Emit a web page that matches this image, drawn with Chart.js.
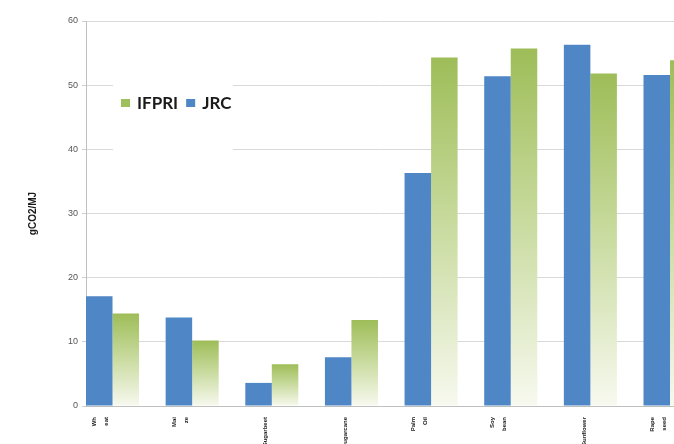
<!DOCTYPE html>
<html>
<head>
<meta charset="utf-8">
<script src="https://cdn.jsdelivr.net/npm/chart.js@4.4.1/dist/chart.umd.min.js"></script>
<style>
  html, body { margin: 0; padding: 0; background: #fff; overflow: hidden; }
  #wrap { width: 674px; height: 444px; }
</style>
</head>
<body>
<div id="wrap"><canvas id="ghgChart" width="674" height="444"></canvas></div>
<script>
// ILUC emissions by feedstock, JRC vs IFPRI
// (one-word labels get an empty first line so they sit in the same column as wrapped ones)
const crops = [
  ['Wh', 'eat'], ['Mai', 'ze'], ['', 'Sugarbeet'], ['', 'Sugarcane'],
  ['Palm', 'Oil'], ['Soy', 'bean'], ['', 'Sunflower'], ['Rape', 'seed']
];
const cropIndex = [0, 1, 2, 3, 4, 5, 6, 7];
const jrc = [17.1, 13.8, 3.6, 7.6, 36.3, 51.4, 56.3, 51.6];
const ifpri = [14.4, 10.2, 6.5, 13.4, 54.3, 55.7, 51.8, 53.9];
const yTicks = [0, 10, 20, 30, 40, 50, 60];

const blue = '#4f86c6';
const green = '#9fbf5c';

function greenFade(ctx) {
  const chart = ctx.chart;
  if (!chart.chartArea || !ctx.parsed) return green;
  const y = chart.scales.y;
  const top = y.getPixelForValue(ctx.parsed.y);
  const base = y.getPixelForValue(0);
  const g = chart.ctx.createLinearGradient(0, top, 0, base);
  g.addColorStop(0, '#9ebd58');
  g.addColorStop(0.45, '#c6d99a');
  g.addColorStop(1, '#f7f9ef');
  return g;
}

// legend drawn as a white box inside the plot (covers gridlines like the original)
const boxLegend = {
  id: 'boxLegend',
  beforeDatasetsDraw(chart) {
    const { ctx, chartArea } = chart;
    const x0 = chartArea.left + 27;
    const y0 = chartArea.top + 38;
    ctx.save();
    ctx.fillStyle = '#fff';
    ctx.fillRect(x0, y0, 120, 96);
    ctx.font = 'bold 17px Lato';
    ctx.textBaseline = 'middle';
    const items = chart.data.datasets.slice().reverse();
    let x = x0 + 8;
    const cy = chartArea.top + 82;
    items.forEach((ds) => {
      ctx.fillStyle = ds.legendColor;
      ctx.fillRect(x, cy - 4, 9, 8);
      x += 16;
      ctx.fillStyle = '#1a1a1a';
      ctx.fillText(ds.label, x, cy + 1);
      x += ctx.measureText(ds.label).width + 8;
    });
    ctx.restore();
  }
};

const chart = new Chart(document.getElementById('ghgChart'), {
  type: 'bar',
  data: {
    labels: cropIndex,
    datasets: [
      {
        label: 'JRC',
        data: cropIndex.map((i) => ({ x: i, y: jrc[i] })),
        backgroundColor: blue,
        legendColor: blue,
        categoryPercentage: 0.666,
        barPercentage: 1.0
      },
      {
        label: 'IFPRI',
        data: cropIndex.map((i) => ({ x: i, y: ifpri[i] })),
        backgroundColor: greenFade,
        legendColor: green,
        categoryPercentage: 0.666,
        barPercentage: 1.0
      }
    ]
  },
  options: {
    responsive: false,
    devicePixelRatio: 1,
    animation: false,
    layout: { padding: { top: 21, left: 0, right: 0, bottom: 0 } },
    plugins: {
      legend: { display: false },
      tooltip: { enabled: false }
    },
    scales: {
      x: {
        type: 'linear',
        offset: false,
        min: -0.333,
        max: 7.05,
        grid: { display: false, offset: false },
        border: { display: true, color: '#bfbfbf', width: 1 },
        ticks: {
          stepSize: 1,
          includeBounds: false,
          autoSkip: false,
          minRotation: 90,
          maxRotation: 90,
          labelOffset: -18,
          padding: 3,
          color: '#222',
          font: { family: 'Liberation Sans', size: 6, weight: 'bold', lineHeight: 2 },
          callback: (v) => (Number.isInteger(v) && crops[v] !== undefined ? crops[v] : '')
        },
        afterFit: (s) => { s.height = 38; s.paddingLeft = 0; s.paddingRight = 0; }
      },
      y: {
        min: 0,
        max: 60,
        afterBuildTicks: (s) => { s.ticks = yTicks.map((v) => ({ value: v })); },
        grid: { color: '#d9d9d9', tickLength: 4, tickColor: '#d0d0d0' },
        border: { display: true, color: '#bfbfbf', width: 1 },
        ticks: {
          padding: 4,
          color: '#555',
          font: { family: 'Liberation Sans', size: 9 }
        },
        title: {
          display: true,
          text: 'gCO2/MJ',
          color: '#1a1a1a',
          font: { family: 'Liberation Sans', size: 10, weight: 'bold' },
          padding: { top: 27, bottom: 0 }
        },
        afterFit: (s) => { s.width = 86; }
      }
    }
  },
  plugins: [boxLegend]
});
</script>
</body>
</html>
